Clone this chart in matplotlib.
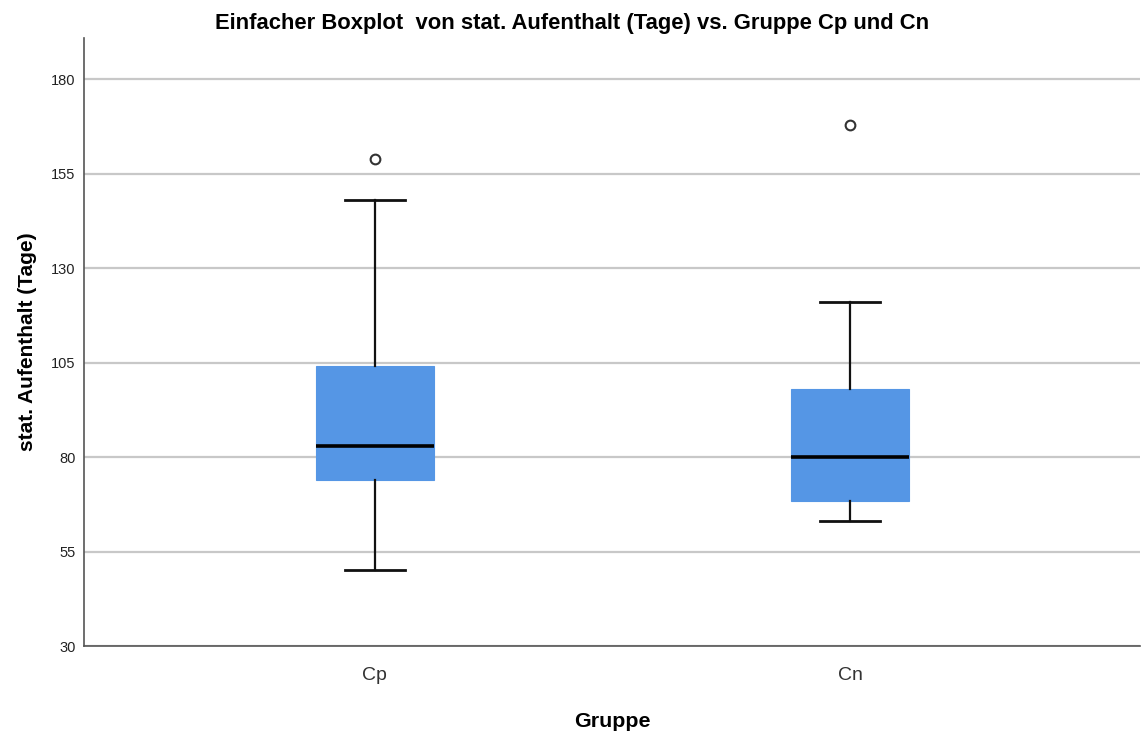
import matplotlib
matplotlib.use("Agg")
import matplotlib.pyplot as plt

plt.rcParams['font.family'] = ['Liberation Sans', 'DejaVu Sans']

# values (stat. Aufenthalt in Tagen)
groups = ['Cp', 'Cn']
whislo = [50, 63]
q1 = [74, 68.5]
med = [83, 80]
q3 = [104, 98]
whishi = [148, 121]
fliers = [[159], [168]]

yticks = [30, 55, 80, 105, 130, 155, 180]

stats = []
for i, g in enumerate(groups):
    stats.append(dict(label=g, whislo=whislo[i], q1=q1[i], med=med[i],
                      q3=q3[i], whishi=whishi[i], fliers=fliers[i]))

fig = plt.figure(figsize=(11.44, 7.35), dpi=100)
ax = fig.add_axes([0.0734, 0.121, 0.9231, 0.8277])

ax.bxp(stats, positions=[0, 1], widths=0.249, capwidths=0.126,
       patch_artist=True, showfliers=True,
       boxprops=dict(facecolor='#5596e5', edgecolor='#5596e5', linewidth=0.8),
       medianprops=dict(color='black', linewidth=2.6),
       whiskerprops=dict(color='#111111', linewidth=1.6),
       capprops=dict(color='#111111', linewidth=2.0),
       flierprops=dict(marker='o', markersize=7, markerfacecolor='none',
                       markeredgecolor='#333333', markeredgewidth=1.5))

ax.set_xlim(-0.612, 1.61)
ax.set_ylim(30, 191)
ax.set_yticks(yticks)
ax.yaxis.grid(True, color='#c8c8c8', linewidth=1.6)
ax.set_axisbelow(True)

for s in ['top', 'right']:
    ax.spines[s].set_visible(False)
for s in ['left', 'bottom']:
    ax.spines[s].set_color('#555555')
    ax.spines[s].set_linewidth(1.2)

ax.tick_params(axis='y', length=0, labelsize=10.5, labelcolor='#222222', pad=6)
ax.tick_params(axis='x', length=0, labelsize=14, labelcolor='#333333', pad=15)

ax.set_ylabel('stat. Aufenthalt (Tage)', fontsize=15, fontweight='bold', labelpad=10)
fig.text(612 / 1144, 1 - 727 / 735, 'Gruppe', ha='center', va='baseline',
         fontsize=15.4, fontweight='bold')

fig.text(0.5, 1 - 29.5 / 735, 'Einfacher Boxplot  von stat. Aufenthalt (Tage) vs. Gruppe Cp und Cn',
         ha='center', va='baseline', fontsize=15.8, fontweight='bold')

fig.savefig('out.png', dpi=100)
